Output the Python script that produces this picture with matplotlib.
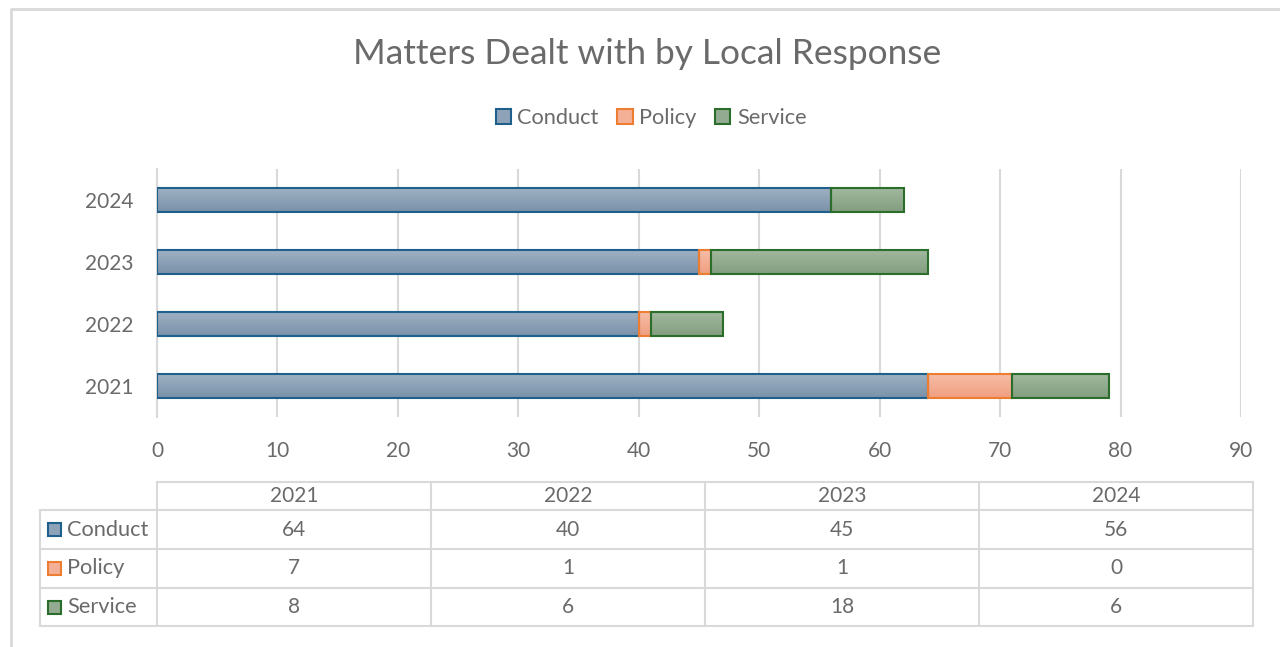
import numpy as np
import matplotlib.pyplot as plt
from matplotlib.colors import LinearSegmentedColormap
from matplotlib.patches import Patch, Rectangle

# data
years = ['2021', '2022', '2023', '2024']
series = ['Conduct', 'Policy', 'Service']
conduct = [64, 40, 45, 56]
policy = [7, 1, 1, 0]
service = [8, 6, 18, 6]
values = [conduct, policy, service]

edge_cols = ['#1f5f8b', '#ed7d31', '#2b6e2b']
top_cols = ['#a0b2c4', '#f7bea9', '#a2b99f']
bot_cols = ['#7991a9', '#f09f80', '#829e7f']
mid_cols = ['#8ea3b8', '#f4b097', '#93ab90']

txt = '#6a6a6a'
grid = '#d9d9d9'
plt.rcParams['font.family'] = ['Lato', 'DejaVu Sans']

W, H = 1280, 647
fig = plt.figure(figsize=(W / 100, H / 100), dpi=100)

# pixel helpers
def fr(x0, y0, x1, y1):
    return [x0 / W, 1 - y1 / H, (x1 - x0) / W, (y1 - y0) / H]

ax = fig.add_axes(fr(157, 169, 1241, 417))
ypos = np.arange(len(years))
bar_h = 0.4
left = np.zeros(len(years))
for i, name in enumerate(series):
    vals = np.array(values[i], dtype=float)
    bars = ax.barh(ypos, vals, left=left, height=bar_h, facecolor='none',
                   edgecolor=edge_cols[i], linewidth=1.5, zorder=4)
    cmap = LinearSegmentedColormap.from_list(name, [top_cols[i], bot_cols[i]])
    for b in bars:
        if b.get_width() <= 0:
            continue
        x0, y0 = b.get_x(), b.get_y()
        ax.imshow(np.linspace(0, 1, 50).reshape(-1, 1), cmap=cmap, aspect='auto',
                  extent=[x0, x0 + b.get_width(), y0, y0 + b.get_height()],
                  origin='upper', zorder=3, interpolation='bilinear')
    left += vals

ax.set_xlim(0, 90)
ax.set_ylim(-0.5, 3.5)
ax.set_xticks(range(0, 91, 10))
ax.set_yticks(ypos)
ax.set_yticklabels(years)
ax.xaxis.grid(True, color=grid, linewidth=1.5)
ax.set_axisbelow(True)
for s in ['top', 'right', 'bottom']:
    ax.spines[s].set_visible(False)
ax.spines['left'].set_color(grid)
ax.spines['left'].set_linewidth(1.5)
ax.tick_params(axis='both', length=0, labelsize=15, labelcolor=txt)
ax.tick_params(axis='x', pad=17)
ax.tick_params(axis='y', pad=17)

# overlay for border, title, legend and table
ov = fig.add_axes([0, 0, 1, 1], zorder=-1)
ov.set_xlim(0, W)
ov.set_ylim(H, 0)
ov.axis('off')
ov.plot([11, 11, W + 5], [H + 5, 9, 9], color=grid, linewidth=2)

fig.text(647 / W, 1 - 54 / H, 'Matters Dealt with by Local Response', ha='center',
         va='center', fontsize=25.4, color=txt)

handles = [Patch(facecolor=mid_cols[i], edgecolor=edge_cols[i], linewidth=1.5)
           for i in range(3)]
fig.legend(handles, series, loc='center', bbox_to_anchor=(651 / W, 1 - 118 / H),
           ncol=3, frameon=False, fontsize=15.7, labelcolor=txt, handlelength=0.7,
           handleheight=0.7, handletextpad=0.3, columnspacing=0.85)

# data table
tab = fig.add_axes([0, 0, 1, 1], zorder=5)
tab.set_xlim(0, W)
tab.set_ylim(H, 0)
tab.axis('off')
tab.patch.set_alpha(0)
col_x = [40, 157, 431, 705, 979, 1253]
row_y = [482, 510, 549, 588, 626]
lw = 1.5
tab.plot([col_x[1], col_x[-1]], [row_y[0]] * 2, color=grid, lw=lw)
for y in row_y[1:]:
    tab.plot([col_x[0], col_x[-1]], [y, y], color=grid, lw=lw)
tab.plot([col_x[0]] * 2, [row_y[1], row_y[-1]], color=grid, lw=lw)
for x in col_x[1:]:
    tab.plot([x, x], [row_y[0], row_y[-1]], color=grid, lw=lw)
for j, yr in enumerate(years):
    cx = (col_x[j + 1] + col_x[j + 2]) / 2
    tab.text(cx, (row_y[0] + row_y[1]) / 2, yr, ha='center', va='center',
             fontsize=15, color=txt)
for i, name in enumerate(series):
    cy = (row_y[i + 1] + row_y[i + 2]) / 2
    tab.add_patch(Rectangle((48, cy - 6.5), 13, 13, facecolor=mid_cols[i],
                            edgecolor=edge_cols[i], linewidth=1.5))
    tab.text(67, cy, name, ha='left', va='center', fontsize=15.7, color=txt)
    for j in range(len(years)):
        cx = (col_x[j + 1] + col_x[j + 2]) / 2
        tab.text(cx, cy, str(values[i][j]), ha='center', va='center',
                 fontsize=15, color=txt)

fig.savefig('out.png', dpi=100)
